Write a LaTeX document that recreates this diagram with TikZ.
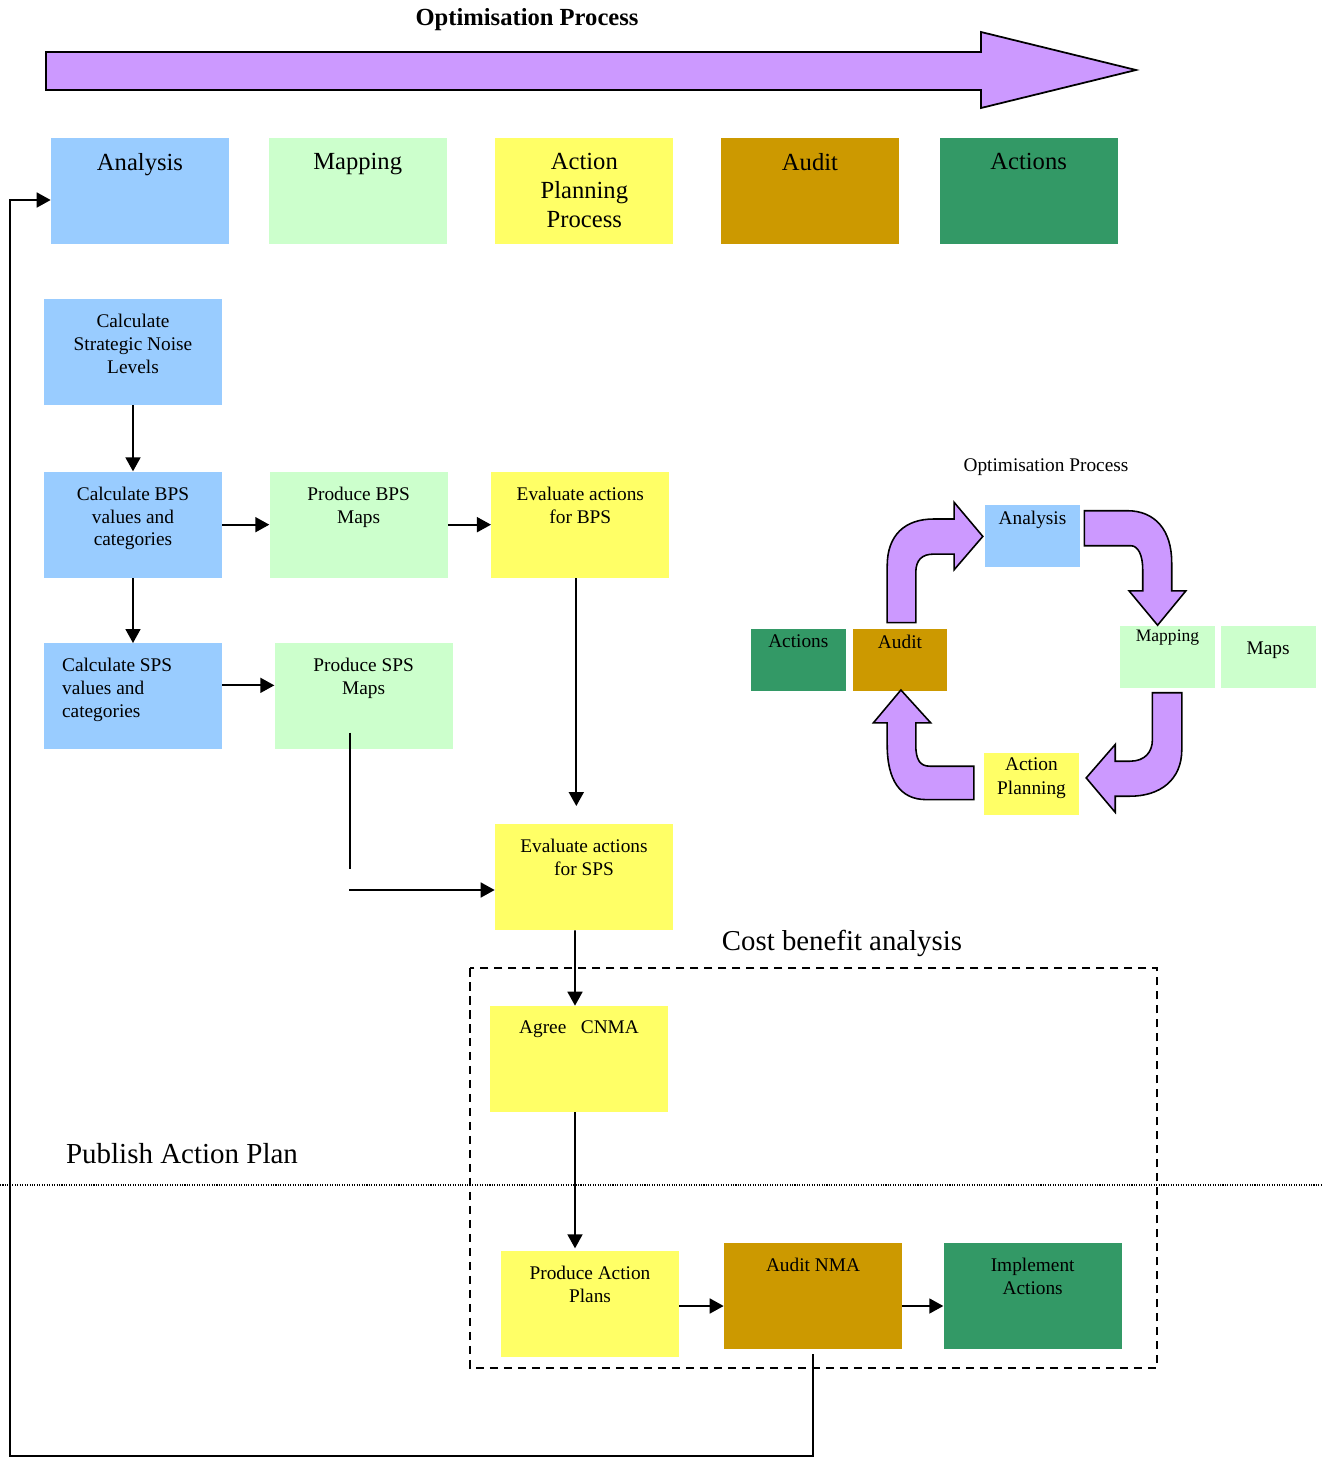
\documentclass[tikz,border=0pt]{standalone}
\usepackage{fontspec}
\setmainfont{Liberation Serif}
\usetikzlibrary{arrows.meta, positioning}

\definecolor{paleblue}{HTML}{99CCFF}
\definecolor{palegreen}{HTML}{CCFFCC}
\definecolor{paleyellow}{HTML}{FFFF66}
\definecolor{ochre}{HTML}{CC9900}
\definecolor{seagreen}{HTML}{339966}
\definecolor{lilac}{HTML}{CC99FF}

\begin{document}
\begin{tikzpicture}[
    x=0.02cm, y=-0.02cm,
    box/.style={rectangle, inner sep=0pt, minimum width=3.56cm, minimum height=2.12cm},
    smallbox/.style={rectangle, inner sep=0pt, minimum width=1.9cm, minimum height=1.24cm},
    txt/.style={anchor=north, align=center, inner sep=8.6pt, font=\fontsize{11}{13}\selectfont},
    bigtxt/.style={anchor=north, align=center, inner sep=8.5pt, font=\fontsize{14}{16.7}\selectfont},
    smalltxt/.style={anchor=north, align=center, inner sep=3.5pt, font=\fontsize{11}{13.6}\selectfont},
    link/.style={line width=1pt},
    arrow/.style={-{Triangle[length=0.28cm, width=0.3cm]}, line width=1pt},
    bigarrow/.style={draw, line width=1pt, fill=lilac},
    turnarrow/.style={draw, line width=0.9pt, fill=lilac},
    cbabox/.style={draw, line width=1.2pt, dash pattern=on 0.17cm off 0.11cm},
    divider/.style={line width=0.6pt, dash pattern=on 0.6pt off 0.8pt}
]
\useasboundingbox (0,0) rectangle (1323,1458);

% Process arrow on top
\node[font=\bfseries\fontsize{14}{16}\selectfont] (title) at (527,20) {Optimisation Process};
\path[bigarrow] (46,52) -- (981,52) -- (981,32) -- (1136,70) -- (981,108) -- (981,90) -- (46,90) -- cycle;

% stage boxes
\node[box, fill=paleblue, label={[bigtxt]north:Analysis}] (analysis) at (140,191) {};
\node[box, fill=palegreen, right=0.78cm of analysis, label={[bigtxt]north:Mapping}] (mapping) {};
\node[box, fill=paleyellow, right=0.96cm of mapping, label={[bigtxt]north:Action\\Planning\\Process}] (planning) {};
\node[box, fill=ochre, right=0.94cm of planning, label={[bigtxt]north:Audit}] (audit) {};
\node[box, fill=seagreen, right=0.8cm of audit, label={[bigtxt]north:Actions}] (actions) {};

% left column
\node[box, fill=paleblue, label={[txt]north:Calculate\\Strategic Noise\\Levels}] (snl) at (133,352) {};
\node[box, fill=paleblue, below=1.32cm of snl, label={[txt]north:Calculate BPS\\values and\\categories}] (calcbps) {};
\node[box, fill=paleblue, below=1.3cm of calcbps, label={[txt, anchor=north west, align=left, xshift=0.06cm]north west:Calculate SPS\\values and\\categories}] (calcsps) {};

% maps and evaluation
\node[box, fill=palegreen, right=0.94cm of calcbps, label={[txt]north:Produce BPS\\Maps}] (prodbps) {};
\node[box, fill=paleyellow, right=0.86cm of prodbps, label={[txt]north:Evaluate actions\\for BPS}] (evalbps) {};
\node[box, fill=palegreen, right=1.04cm of calcsps, label={[txt]north:Produce SPS\\Maps}] (prodsps) {};
\node[box, fill=paleyellow, label={[txt]north:Evaluate actions\\for SPS}] (evalsps) at (584,877) {};

% cost benefit analysis group
\node[font=\fontsize{16.4}{19}\selectfont] (cbatitle) at (842,943) {Cost benefit analysis};
\draw[cbabox] (470,968) rectangle (1157,1368);
\node[box, fill=paleyellow, label={[txt]north:Agree~~~CNMA}] (agree) at (579,1059) {};
\node[box, fill=paleyellow, label={[txt]north:Produce Action\\Plans}] (plans) at (590,1304) {};
\node[box, fill=ochre, label={[txt]north:Audit NMA}] (nma) at (813,1296) {};
\node[box, fill=seagreen, right=0.82cm of nma, label={[txt]north:Implement\\Actions}] (implement) {};

% publish line
\node[font=\fontsize{16.5}{19}\selectfont] (publish) at (182,1154) {Publish Action Plan};
\draw[divider] (0,1185) -- (1323,1185);

% small cycle
\node[font=\fontsize{11}{13}\selectfont] (cycletitle) at (1046,467) {Optimisation Process};
\node[smallbox, fill=paleblue, label={[smalltxt]north:Analysis}] (canalysis) at (1032.5,536) {};
\node[smallbox, fill=palegreen, label={[smalltxt, inner sep=2.2pt, font=\fontsize{10}{12}\selectfont]north:Mapping}] (cmapping) at (1167.5,656.5) {};
\node[smallbox, fill=palegreen, right=0.1cm of cmapping, label={[smalltxt, inner sep=9.4pt]north:Maps}] (cmaps) {};
\node[smallbox, fill=paleyellow, label={[smalltxt, inner sep=3.2pt]north:Action\\Planning}] (cplanning) at (1031.5,783.5) {};
\node[smallbox, fill=ochre, label={[smalltxt]north:Audit}] (caudit) at (900,660) {};
\node[smallbox, fill=seagreen, left=0.12cm of caudit, label={[smalltxt]north:Actions}] (cactions) {};

% turning arrows of the cycle
\path[turnarrow] (887.2,622.6) -- (887.2,565.8) .. controls (887.2,535) and (905,519) .. (933.7,519)
    -- (954.1,519) -- (954.1,502.3) -- (982.8,536.4) -- (954.1,569.8) -- (954.1,554.1) -- (933.7,554.1)
    .. controls (922,554.1) and (915.8,560) .. (915.8,572.5) -- (915.8,622.6) -- cycle;
\path[turnarrow] (1084.3,510.7) -- (1127.1,510.7) .. controls (1155,510.7) and (1171.7,530) .. (1171.7,562.4)
    -- (1171.7,590.8) -- (1185.9,590.8) -- (1157.6,625.2) -- (1129,590.8) -- (1142.7,590.8) -- (1142.7,569.1)
    .. controls (1142.7,555) and (1138,545.7) .. (1130.8,545.7) -- (1084.3,545.7) -- cycle;
\path[turnarrow] (1152.4,692.7) -- (1181.8,692.7) -- (1181.8,749.5) .. controls (1181.8,780) and (1160,796.2) .. (1130,796.2)
    -- (1115.2,796.2) -- (1115.2,812.3) -- (1086.2,777.9) -- (1115.2,744.5) -- (1115.2,761.2) -- (1130,761.2)
    .. controls (1145,761.2) and (1152.4,752) .. (1152.4,739.5) -- cycle;
\path[turnarrow] (973.8,766.2) -- (973.8,799.6) -- (926.2,799.6) .. controls (900,799.6) and (887.2,780) .. (887.2,745)
    -- (887.2,722.8) -- (873.4,722.8) -- (900.9,690) -- (930.7,722.8) -- (915.8,722.8) -- (915.8,745)
    .. controls (915.8,760) and (920,766.2) .. (930,766.2) -- cycle;

% arrows
\draw[arrow] (snl) -- (calcbps);
\draw[arrow] (calcbps) -- (calcsps);
\draw[arrow] (calcbps) -- (prodbps);
\draw[arrow] (prodbps) -- (evalbps);
\draw[arrow] ([yshift=0.22cm]calcsps.east) -- ([yshift=0.22cm]prodsps.west);
\draw[arrow] ([xshift=-0.08cm]evalbps.south) -- ++(0,228);
\draw[link] ([xshift=-0.28cm, yshift=0.34cm]prodsps.south) -- ++(0,136);
\coordinate (jog) at (349,890);
\draw[arrow] (jog) -- ([yshift=-0.26cm]evalsps.west);
\draw[arrow] ([xshift=-0.18cm]evalsps.south) -- ([xshift=-0.08cm]agree.north);
\draw[arrow] ([xshift=-0.08cm]agree.south) -- ++(0,136);
\draw[arrow] ([yshift=-0.04cm]plans.east) -- ([yshift=-0.04cm]plans.east -| nma.west);
\draw[arrow] ([yshift=-0.2cm]nma.east) -- ([yshift=-0.2cm]implement.west);

% feedback loop back to analysis
\coordinate (back) at (10,1456);
\draw[arrow] ([yshift=-0.1cm]nma.south) |- (back) |- ([yshift=-0.18cm]analysis.west);

\end{tikzpicture}
\end{document}
